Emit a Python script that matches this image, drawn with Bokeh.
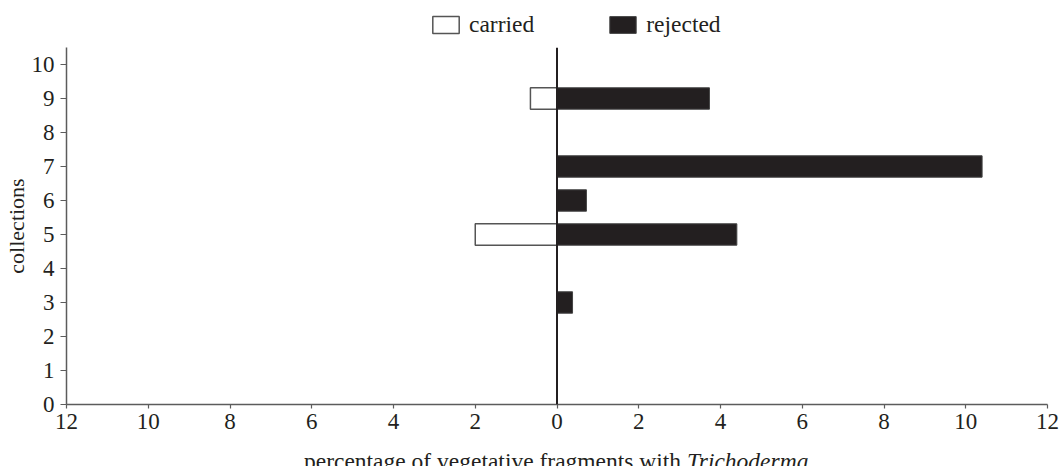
from bokeh.plotting import figure
from bokeh.layouts import column
from bokeh.models import (ColumnDataSource, Legend, LegendItem, Label, FixedTicker,
                          Span, Range1d)
from bokeh.embed import file_html
from bokeh.resources import INLINE

# ---- data ----
collections = [3, 5, 6, 7, 9]
carried = [0.0, 2.0, 0.0, 0.0, 0.65]        # plotted to the left of 0
rejected = [0.38, 4.4, 0.72, 10.4, 3.73]    # plotted to the right of 0
y_ticks = [0, 1, 2, 3, 4, 5, 6, 7, 8, 9, 10]
x_ticks = [-12, -10, -8, -6, -4, -2, 0, 2, 4, 6, 8, 10, 12]
x_tick_labels = ["12", "10", "8", "6", "4", "2", "0", "2", "4", "6", "8", "10", "12"]
series_names = ["carried", "rejected"]
x_title = "percentage of vegetative fragments with "
x_title_genus = "Trichoderma"
y_title = "collections"

W = 1059
FONT = "Liberation Serif"
INK = "#231f20"
AXIS = "#5c5c5c"
CAR_STYLE = dict(fill_color="white", line_color="#555555", line_width=1.5)
REJ_STYLE = dict(fill_color=INK, line_color="#444444", line_width=1.0)

car_y = [c for c, v in zip(collections, carried) if v > 0]
car_v = [-v for v in carried if v > 0]
src_car = ColumnDataSource(dict(y=car_y, right=car_v))
src_rej = ColumnDataSource(dict(y=collections, right=rejected))

x_range = Range1d(-12, 12)

# ---------------- top strip: legend ----------------
TOP_H = 47
p_top = figure(width=W, height=TOP_H, output_backend="svg", toolbar_location=None,
               x_axis_type=None, y_axis_type=None,
               x_range=x_range, y_range=Range1d(0, 10.5),
               min_border=0, min_border_left=66, min_border_right=12,
               min_border_top=0, min_border_bottom=0)
p_top.outline_line_color = None
p_top.xgrid.grid_line_color = None
p_top.ygrid.grid_line_color = None
# hidden copies of the series, used only as legend proxies
l_car = p_top.hbar(y="y", left=0, right="right", height=0.63, source=src_car,
                   visible=False, **CAR_STYLE)
l_rej = p_top.hbar(y="y", left=0, right="right", height=0.63, source=src_rej,
                   visible=False, **REJ_STYLE)
legend = Legend(items=[LegendItem(label=series_names[0], renderers=[l_car]),
                       LegendItem(label=series_names[1], renderers=[l_rej])],
                orientation="horizontal", location=(363, 9),
                glyph_width=33, glyph_height=21, label_height=21,
                label_standoff=7, spacing=72, click_policy="none",
                padding=0, margin=0, border_line_color=None,
                background_fill_alpha=0,
                label_text_font=FONT, label_text_font_size="23.5px", label_text_color=INK)
p_top.add_layout(legend, "center")

# ---------------- main chart ----------------
MAIN_BOTTOM = 35
p = figure(width=W, height=357 + MAIN_BOTTOM, output_backend="svg", toolbar_location=None,
           x_range=x_range, y_range=(0, 10.5),
           min_border_left=66, min_border_right=12, min_border_top=0,
           min_border_bottom=MAIN_BOTTOM)
p.outline_line_color = None
p.xgrid.grid_line_color = None
p.ygrid.grid_line_color = None

p.hbar(y="y", left=0, right="right", height=0.63, source=src_car, **CAR_STYLE)
p.hbar(y="y", left=0, right="right", height=0.63, source=src_rej, **REJ_STYLE)
p.add_layout(Span(location=0, dimension="height", line_color=INK, line_width=2))

for ax in (p.xaxis[0], p.yaxis[0]):
    ax.axis_line_color = AXIS
    ax.axis_line_width = 1.5
    ax.major_tick_line_color = AXIS
    ax.major_tick_line_width = 1.2
    ax.minor_tick_line_color = None
    ax.major_tick_in = 0
    ax.major_label_text_font = FONT
    ax.major_label_text_color = INK
    ax.major_label_text_font_size = "23px"

p.xaxis.ticker = FixedTicker(ticks=x_ticks)
p.xaxis.major_label_overrides = {t: l for t, l in zip(x_ticks, x_tick_labels)}
p.xaxis.major_tick_out = 4
p.xaxis.major_label_standoff = 5

p.yaxis.ticker = FixedTicker(ticks=y_ticks)
p.yaxis.major_tick_out = 6
p.yaxis.major_label_standoff = 6
p.yaxis.axis_label = y_title
p.yaxis.axis_label_text_font = FONT
p.yaxis.axis_label_text_font_style = "normal"
p.yaxis.axis_label_text_font_size = "22px"
p.yaxis.axis_label_text_color = INK
p.yaxis.axis_label_standoff = 0

# ---------------- bottom strip: x-axis title ----------------
BOT_H = 466 - TOP_H - (357 + MAIN_BOTTOM)
p_bot = figure(width=W, height=BOT_H, output_backend="svg", toolbar_location=None,
               x_axis_type=None, y_axis_type=None,
               x_range=x_range, y_range=Range1d(0, BOT_H),
               min_border=0, min_border_left=66, min_border_right=12,
               min_border_top=0, min_border_bottom=0)
p_bot.outline_line_color = None
p_bot.xgrid.grid_line_color = None
p_bot.ygrid.grid_line_color = None
p_bot.add_layout(Label(x=3.18, y=5.5, text=x_title,
                       text_align="right", text_baseline="alphabetic",
                       text_font=FONT, text_font_size="23.5px", text_color=INK))
p_bot.add_layout(Label(x=3.18, y=5.5, text=x_title_genus,
                       text_align="left", text_baseline="alphabetic",
                       text_font=FONT, text_font_size="23.5px", text_font_style="italic",
                       text_color=INK))

layout = column(p_top, p, p_bot, spacing=0)
open("out.html", "w").write(file_html(layout, INLINE))
